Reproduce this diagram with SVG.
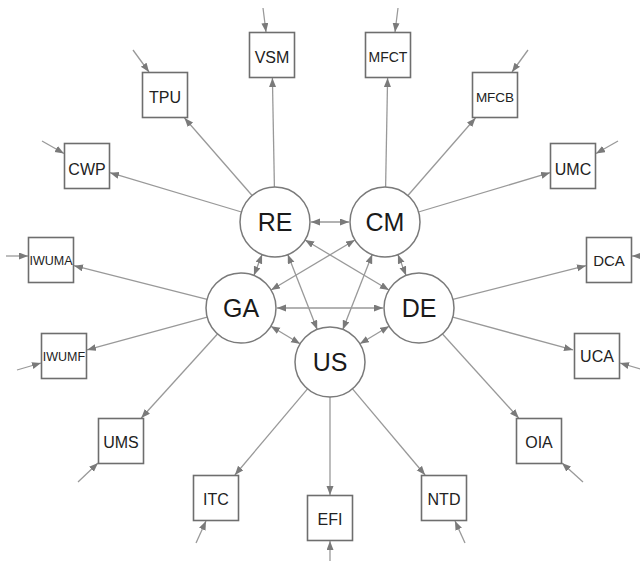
<svg xmlns="http://www.w3.org/2000/svg" width="640" height="561" viewBox="0 0 640 561">
<style>
.bg{fill:#ffffff}
.ln{stroke:#999999;stroke-width:1.3;fill:none;marker-end:url(#ah)}
.dl{stroke:#999999;stroke-width:1.3;fill:none;marker-end:url(#ah);marker-start:url(#ah)}
.bx{fill:#ffffff;stroke:#6e6e6e;stroke-width:1.6}
.ci{fill:#ffffff;stroke:#7a7a7a;stroke-width:1.5}
.bt{font-family:"Liberation Sans",Arial,sans-serif;font-size:16px;fill:#222222;text-anchor:middle}
.ct{font-family:"Liberation Sans",Arial,sans-serif;font-size:25px;fill:#1a1a1a;text-anchor:middle}
</style>
<defs>
<marker id="ah" markerUnits="userSpaceOnUse" markerWidth="10" markerHeight="8" refX="9" refY="3.5" orient="auto-start-reverse">
<path d="M0,0 L9,3.5 L0,7 Z" fill="#7a7a7a"/>
</marker>
</defs>
<rect class="bg" x="0" y="0" width="640" height="561"/>
<g id="connectors">
<line class="ln" x1="274.4" y1="187" x2="272.4" y2="78"/>
<line class="ln" x1="252.1" y1="195.5" x2="184.5" y2="118"/>
<line class="ln" x1="241.5" y1="212" x2="110" y2="172.7"/>
<line class="ln" x1="385.6" y1="187" x2="387.6" y2="78"/>
<line class="ln" x1="407.9" y1="195.5" x2="475.5" y2="118"/>
<line class="ln" x1="418.5" y1="212" x2="550" y2="172.7"/>
<line class="ln" x1="207.1" y1="299.4" x2="74" y2="265.7"/>
<line class="ln" x1="207.2" y1="317.2" x2="87" y2="349.9"/>
<line class="ln" x1="217.5" y1="334" x2="141.3" y2="418"/>
<line class="ln" x1="452.9" y1="299.4" x2="586" y2="265.7"/>
<line class="ln" x1="452.8" y1="317.2" x2="573" y2="349.9"/>
<line class="ln" x1="442.5" y1="334" x2="518.7" y2="418"/>
<line class="ln" x1="307.5" y1="388.8" x2="234.9" y2="475"/>
<line class="ln" x1="330" y1="397" x2="330" y2="495"/>
<line class="ln" x1="352.5" y1="388.8" x2="425.1" y2="475"/>
<line class="dl" x1="311" y1="222" x2="349" y2="222"/>
<line class="dl" x1="262.1" y1="254.6" x2="253.9" y2="275.4"/>
<line class="dl" x1="397.9" y1="254.6" x2="406.1" y2="275.4"/>
<line class="dl" x1="305.1" y1="240" x2="388.9" y2="290"/>
<line class="dl" x1="354.9" y1="240" x2="271.1" y2="290"/>
<line class="dl" x1="287.8" y1="254.6" x2="317.2" y2="329.4"/>
<line class="dl" x1="372.2" y1="254.6" x2="342.8" y2="329.4"/>
<line class="dl" x1="277" y1="308" x2="383" y2="308"/>
<line class="dl" x1="270.9" y1="326.2" x2="300.1" y2="343.8"/>
<line class="dl" x1="389.1" y1="326.2" x2="359.9" y2="343.8"/>
<line class="ln" x1="263" y1="8" x2="266" y2="32"/>
<line class="ln" x1="398" y1="8" x2="395" y2="32"/>
<line class="ln" x1="133" y1="50" x2="149" y2="72"/>
<line class="ln" x1="528" y1="50" x2="512" y2="72"/>
<line class="ln" x1="42" y1="141" x2="64" y2="153.5"/>
<line class="ln" x1="618" y1="141" x2="596" y2="153.5"/>
<line class="ln" x1="6" y1="256" x2="28" y2="256"/>
<line class="ln" x1="654" y1="256" x2="632" y2="256"/>
<line class="ln" x1="17" y1="370" x2="41" y2="363"/>
<line class="ln" x1="644" y1="370" x2="620" y2="363"/>
<line class="ln" x1="78" y1="482" x2="98" y2="463"/>
<line class="ln" x1="583" y1="482" x2="562" y2="463"/>
<line class="ln" x1="196" y1="543" x2="206" y2="521"/>
<line class="ln" x1="465" y1="543" x2="455" y2="521"/>
<line class="ln" x1="330" y1="563" x2="330" y2="541"/>
</g>
<g id="VSM"><rect class="bx" x="249.5" y="32.5" width="45" height="45"/><text class="bt" x="272" y="63">VSM</text></g>
<g id="MFCT"><rect class="bx" x="365.5" y="32.5" width="45" height="45"/><text class="bt" x="388" y="62" style="font-size:14px">MFCT</text></g>
<g id="TPU"><rect class="bx" x="142.5" y="72.5" width="45" height="45"/><text class="bt" x="165" y="102.5">TPU</text></g>
<g id="MFCB"><rect class="bx" x="472.5" y="72.5" width="45" height="45"/><text class="bt" x="495" y="102" style="font-size:13.5px">MFCB</text></g>
<g id="CWP"><rect class="bx" x="64.5" y="143.5" width="45" height="45"/><text class="bt" x="87" y="174.5">CWP</text></g>
<g id="UMC"><rect class="bx" x="550.5" y="143.5" width="45" height="45"/><text class="bt" x="573" y="174.5">UMC</text></g>
<g id="IWUMA"><rect class="bx" x="28.5" y="237.5" width="45" height="45"/><text class="bt" x="51" y="265" style="font-size:12.5px">IWUMA</text></g>
<g id="DCA"><rect class="bx" x="586.5" y="237.5" width="45" height="45"/><text class="bt" x="609" y="266" style="font-size:15px">DCA</text></g>
<g id="IWUMF"><rect class="bx" x="41.5" y="333.5" width="45" height="45"/><text class="bt" x="64" y="361" style="font-size:12.5px">IWUMF</text></g>
<g id="UCA"><rect class="bx" x="574.5" y="333.5" width="45" height="45"/><text class="bt" x="597" y="362">UCA</text></g>
<g id="UMS"><rect class="bx" x="98.5" y="418.5" width="45" height="45"/><text class="bt" x="121" y="447.5">UMS</text></g>
<g id="OIA"><rect class="bx" x="516.5" y="418.5" width="45" height="45"/><text class="bt" x="539" y="447.5">OIA</text></g>
<g id="ITC"><rect class="bx" x="193.5" y="475.5" width="45" height="45"/><text class="bt" x="216" y="504.5">ITC</text></g>
<g id="NTD"><rect class="bx" x="421.5" y="475.5" width="45" height="45"/><text class="bt" x="444" y="504.5">NTD</text></g>
<g id="EFI"><rect class="bx" x="307.5" y="495.5" width="45" height="45"/><text class="bt" x="330" y="524.5">EFI</text></g>
<g id="RE"><circle class="ci" cx="275" cy="222" r="35"/><text class="ct" x="275" y="231">RE</text></g>
<g id="CM"><circle class="ci" cx="385" cy="222" r="35"/><text class="ct" x="385" y="231">CM</text></g>
<g id="GA"><circle class="ci" cx="241" cy="308" r="35"/><text class="ct" x="241" y="317">GA</text></g>
<g id="DE"><circle class="ci" cx="419" cy="308" r="35"/><text class="ct" x="419" y="317">DE</text></g>
<g id="US"><circle class="ci" cx="330" cy="362" r="35"/><text class="ct" x="330" y="371">US</text></g>
</svg>
